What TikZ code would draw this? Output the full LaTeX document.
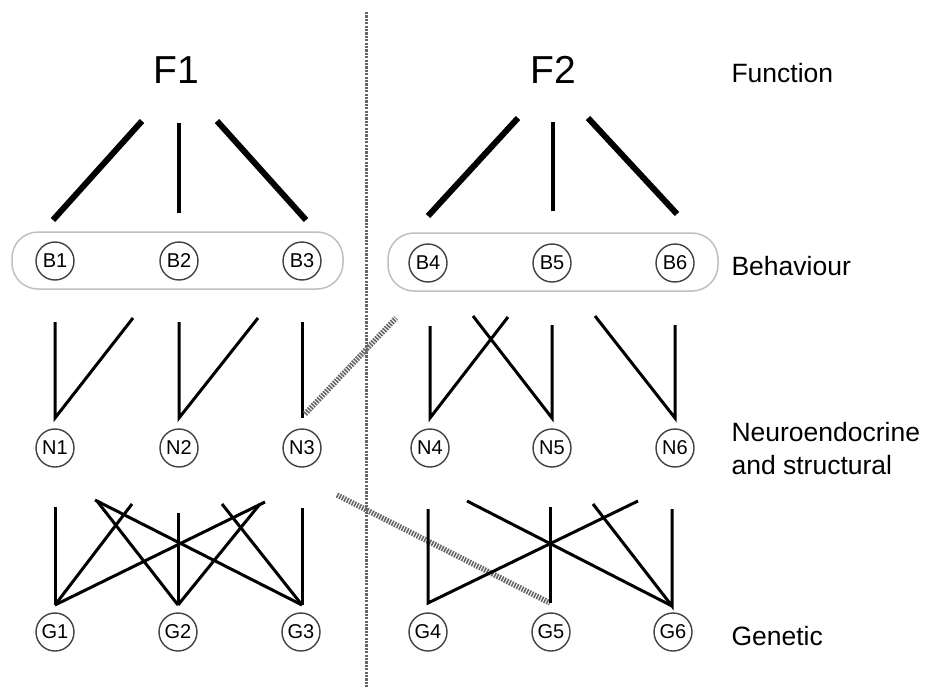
\documentclass[tikz,border=0pt]{standalone}
\usepackage{fontspec}
\setmainfont{Liberation Sans}
\begin{document}
\begin{tikzpicture}[x=1pt,y=-1pt,
  nd/.style={circle,draw=black!75,line width=1.4pt,minimum size=38pt,inner sep=0pt,font=\fontsize{20}{20}\selectfont},
  lvl/.style={anchor=west,align=left,font=\fontsize{26.5}{33}\selectfont},
  ftitle/.style={font=\fontsize{39}{39}\selectfont},
  thick1/.style={line width=6pt},
  thick2/.style={line width=4pt},
  ln/.style={line width=3pt},
  hatch/.style={draw=black!60,line width=5.5pt,dash pattern=on 1.6pt off 1.2pt},
  grp/.style={draw=black!25,line width=1.5pt,rounded corners=26pt}]
\useasboundingbox (0,0) rectangle (927,688);
% dotted divider
\coordinate (dvt) at (366,12);
\coordinate (dvb) at (366,688);
\draw[black!60,line width=3pt,dash pattern=on 2.2pt off 1.2pt] (dvt) -- (dvb);
% titles
\node[ftitle] (F1) at (176,70) {F1};
\node[ftitle] (F2) at (553,70) {F2};
\node[lvl] (lf) at (728,73) {Function};
\node[lvl] (lb) at (728,266) {Behaviour};
\node[lvl] (ln) at (728,449) {Neuroendocrine\\and structural};
\node[lvl] (lg) at (728,636) {Genetic};
% behaviour boxes
\draw[grp] (12,232) rectangle (343,289);
\draw[grp] (388,233) rectangle (718,291);
% nodes
\node[nd] (B1) at (55,261) {B1};
\node[nd] (B2) at (179,261) {B2};
\node[nd] (B3) at (302,261) {B3};
\node[nd] (B4) at (428,263) {B4};
\node[nd] (B5) at (552,263) {B5};
\node[nd] (B6) at (675,263) {B6};
\node[nd] (N1) at (55,448) {N1};
\node[nd] (N2) at (179,448) {N2};
\node[nd] (N3) at (302,448) {N3};
\node[nd] (N4) at (430,448) {N4};
\node[nd] (N5) at (552,448) {N5};
\node[nd] (N6) at (675,448) {N6};
\node[nd] (G1) at (55,632) {G1};
\node[nd] (G2) at (178,632) {G2};
\node[nd] (G3) at (301,632) {G3};
\node[nd] (G4) at (428,632) {G4};
\node[nd] (G5) at (551,632) {G5};
\node[nd] (G6) at (673,632) {G6};
% function -> behaviour lines
\coordinate (a1) at (142,121); \coordinate (a2) at (53,220);
\coordinate (a3) at (179,123); \coordinate (a4) at (179,213);
\coordinate (a5) at (217,121); \coordinate (a6) at (306,220);
\coordinate (b1) at (518,118); \coordinate (b2) at (428,216);
\coordinate (b3) at (553,122); \coordinate (b4) at (553,211);
\coordinate (b5) at (588,118); \coordinate (b6) at (677,214);
\draw[thick1] (a1) -- (a2);
\draw[thick2] (a3) -- (a4);
\draw[thick1] (a5) -- (a6);
\draw[thick1] (b1) -- (b2);
\draw[thick2] (b3) -- (b4);
\draw[thick1] (b5) -- (b6);
% neuro level
\coordinate (n1t) at (55,322);  \coordinate (n1b) at (55,418);  \coordinate (n1d) at (133,318);
\coordinate (n2t) at (179,322); \coordinate (n2b) at (179,418); \coordinate (n2d) at (258,318);
\coordinate (n3t) at (302,322); \coordinate (n3b) at (302,418); \coordinate (n3h) at (305,414); \coordinate (n3d) at (396,318);
\coordinate (n4t) at (430,326); \coordinate (n4b) at (430,418); \coordinate (n4d) at (508,317);
\coordinate (n5t) at (552,325); \coordinate (n5b) at (552,418); \coordinate (n5d) at (473,316);
\coordinate (n6t) at (675,325); \coordinate (n6b) at (675,418); \coordinate (n6d) at (595,316);
\draw[ln] (n1t) -- (n1b) -- (n1d);
\draw[ln] (n2t) -- (n2b) -- (n2d);
\draw[ln] (n3t) -- (n3b);
\draw[hatch] (n3h) -- (n3d);
\draw[ln] (n4t) -- (n4b) -- (n4d);
\draw[ln] (n5d) -- (n5b) -- (n5t);
\draw[ln] (n6d) -- (n6b) -- (n6t);
% genetic level
\coordinate (g1b) at (55,605);  \coordinate (g1t) at (55,507);
\coordinate (g2b) at (178,605); \coordinate (g2t) at (178,513);
\coordinate (g3b) at (302,605); \coordinate (g3t) at (302,508);
\coordinate (p1) at (132,504); \coordinate (p2) at (265,502);
\coordinate (p3) at (97,501);  \coordinate (p4) at (260,504);
\coordinate (p5) at (95,500);  \coordinate (p6) at (222,504);
\draw[ln] (g1t) -- (g1b);
\draw[ln] (g1b) -- (p1);
\draw[ln] (g1b) -- (p2);
\draw[ln] (g2t) -- (g2b);
\draw[ln] (g2b) -- (p3);
\draw[ln] (g2b) -- (p4);
\draw[ln] (g3t) -- (g3b);
\draw[ln] (g3b) -- (p5);
\draw[ln] (g3b) -- (p6);
\coordinate (g4b) at (428,603); \coordinate (g4t) at (428,509);
\coordinate (g5b) at (550,603); \coordinate (g5t) at (550,507);
\coordinate (g6b) at (672,606); \coordinate (g6t) at (672,509);
\coordinate (q1) at (638,501); \coordinate (q2) at (467,501);
\coordinate (q3) at (593,504); \coordinate (q4) at (337,495);
\draw[hatch] (q4) -- (g5b);
\draw[ln] (g4t) -- (g4b) -- (q1);
\draw[ln] (g5t) -- (g5b);
\draw[ln] (q2) -- (g6b);
\draw[ln] (g6t) -- (g6b) -- (q3);
\end{tikzpicture}
\end{document}
